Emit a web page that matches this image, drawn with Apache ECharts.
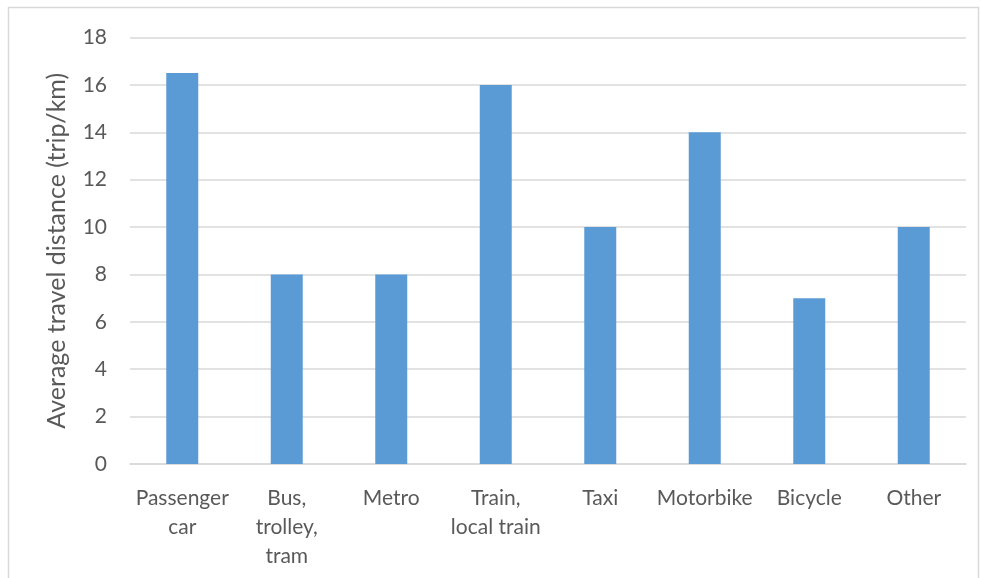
<!DOCTYPE html>
<html>
<head>
<meta charset="utf-8">
<script src="https://cdn.jsdelivr.net/npm/echarts@6/dist/echarts.min.js"></script>
<style>
html, body { margin: 0; padding: 0; background: #fff; }
#main { width: 981px; height: 578px; }
</style>
</head>
<body>
<div id="main"></div>
<script>
// 数据
var categories = ['Passenger\ncar', 'Bus,\ntrolley,\ntram', 'Metro', 'Train,\nlocal train', 'Taxi', 'Motorbike', 'Bicycle', 'Other'];
var distances = [16.5, 8, 8, 16, 10, 14, 7, 10];
var yTitle = 'Average travel distance (trip/km)';

var chart = echarts.init(document.getElementById('main'));

var option = {
    animation: false,
    color: ['#5B9BD5'],
    graphic: [{
        type: 'rect',
        shape: { x: 8.5, y: 7.5, width: 970, height: 600 },
        style: { fill: 'none', stroke: '#d9d9d9', lineWidth: 1.5 },
        silent: true
    }],
    grid: {
        left: 130,
        right: 15,
        top: 37.5,
        bottom: 114
    },
    xAxis: {
        type: 'category',
        data: categories,
        axisTick: { show: false },
        axisLine: { lineStyle: { color: '#d9d9d9', width: 1.5 } },
        axisLabel: {
            interval: 0,
            margin: 20,
            color: '#595959',
            fontFamily: 'Lato',
            fontSize: 21,
            lineHeight: 29
        }
    },
    yAxis: {
        type: 'value',
        min: 0,
        max: 18,
        interval: 2,
        name: yTitle,
        nameLocation: 'middle',
        nameGap: 61,
        nameTextStyle: { color: '#595959', fontFamily: 'Lato', fontSize: 25 },
        axisLine: { show: false },
        axisTick: { show: false },
        axisLabel: { margin: 23, color: '#595959', fontFamily: 'Lato', fontSize: 21 },
        splitLine: { lineStyle: { color: '#d9d9d9', width: 1.5 } }
    },
    series: [{
        type: 'bar',
        data: distances,
        barWidth: 32
    }]
};

chart.setOption(option);
</script>
</body>
</html>
